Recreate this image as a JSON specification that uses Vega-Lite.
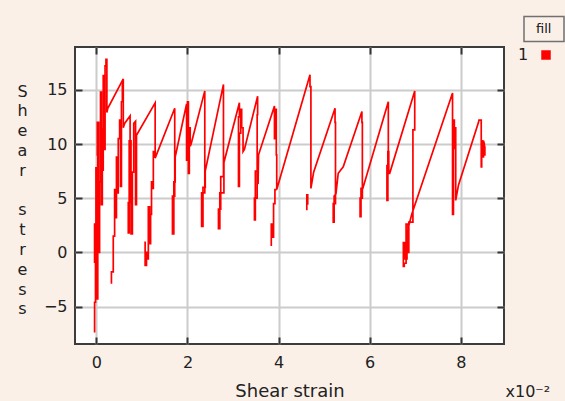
{"$schema":"https://vega.github.io/schema/vega-lite/v6.json","width":429,"height":297,"autosize":"none","padding":{"left":75,"top":47,"right":61,"bottom":57},"background":"#FAF0E8","config":{"view":{"fill":"#FFFFFF","stroke":"#3C3C3C","strokeWidth":2},"font":"DejaVu Sans"},
"data":{"values":[
{"seg":1,"i":1,"strain":-0.04,"stress":-7.4,"series":"1"},{"seg":1,"i":2,"strain":-0.04,"stress":-4.6,"series":"1"},{"seg":1,"i":3,"strain":-0.02,"stress":-4.6,"series":"1"},{"seg":1,"i":4,"strain":-0.02,"stress":2.6,"series":"1"},{"seg":1,"i":5,"strain":-0.04,"stress":2.6,"series":"1"},{"seg":1,"i":6,"strain":-0.04,"stress":-0.9,"series":"1"},{"seg":1,"i":7,"strain":-0.01,"stress":-0.9,"series":"1"},{"seg":1,"i":8,"strain":-0.01,"stress":7.8,"series":"1"},{"seg":1,"i":9,"strain":0.01,"stress":7.8,"series":"1"},{"seg":1,"i":10,"strain":0.01,"stress":-4.3,"series":"1"},
{"seg":1,"i":11,"strain":0.03,"stress":-4.3,"series":"1"},{"seg":1,"i":12,"strain":0.03,"stress":9.0,"series":"1"},{"seg":1,"i":13,"strain":0.02,"stress":9.0,"series":"1"},{"seg":1,"i":14,"strain":0.02,"stress":12.0,"series":"1"},{"seg":1,"i":15,"strain":0.05,"stress":12.0,"series":"1"},{"seg":1,"i":16,"strain":0.05,"stress":0.0,"series":"1"},{"seg":1,"i":17,"strain":0.07,"stress":0.0,"series":"1"},{"seg":1,"i":18,"strain":0.07,"stress":6.5,"series":"1"},{"seg":1,"i":19,"strain":0.09,"stress":6.5,"series":"1"},{"seg":1,"i":20,"strain":0.09,"stress":14.8,"series":"1"},
{"seg":1,"i":21,"strain":0.11,"stress":14.8,"series":"1"},{"seg":1,"i":22,"strain":0.11,"stress":4.4,"series":"1"},{"seg":1,"i":23,"strain":0.13,"stress":4.4,"series":"1"},{"seg":1,"i":24,"strain":0.13,"stress":11.4,"series":"1"},{"seg":1,"i":25,"strain":0.12,"stress":11.4,"series":"1"},{"seg":1,"i":26,"strain":0.12,"stress":7.6,"series":"1"},{"seg":1,"i":27,"strain":0.15,"stress":7.6,"series":"1"},{"seg":1,"i":28,"strain":0.15,"stress":16.3,"series":"1"},{"seg":1,"i":29,"strain":0.17,"stress":16.3,"series":"1"},{"seg":1,"i":30,"strain":0.17,"stress":9.5,"series":"1"},
{"seg":1,"i":31,"strain":0.19,"stress":9.5,"series":"1"},{"seg":1,"i":32,"strain":0.19,"stress":17.2,"series":"1"},{"seg":1,"i":33,"strain":0.21,"stress":17.2,"series":"1"},{"seg":1,"i":34,"strain":0.21,"stress":17.8,"series":"1"},{"seg":1,"i":35,"strain":0.23,"stress":17.8,"series":"1"},{"seg":1,"i":36,"strain":0.23,"stress":12.9,"series":"1"},{"seg":1,"i":37,"strain":0.25,"stress":13.3,"series":"1"},{"seg":1,"i":38,"strain":0.59,"stress":16.0,"series":"1"},{"seg":1,"i":39,"strain":0.59,"stress":11.5,"series":"1"},{"seg":1,"i":40,"strain":0.62,"stress":11.9,"series":"1"},
{"seg":1,"i":41,"strain":0.74,"stress":12.6,"series":"1"},{"seg":1,"i":42,"strain":0.74,"stress":4.6,"series":"1"},{"seg":1,"i":43,"strain":0.70,"stress":4.6,"series":"1"},{"seg":1,"i":44,"strain":0.70,"stress":1.8,"series":"1"},{"seg":1,"i":45,"strain":0.72,"stress":1.8,"series":"1"},{"seg":1,"i":46,"strain":0.72,"stress":10.3,"series":"1"},{"seg":1,"i":47,"strain":0.76,"stress":10.3,"series":"1"},{"seg":1,"i":48,"strain":0.76,"stress":1.7,"series":"1"},{"seg":1,"i":49,"strain":0.79,"stress":1.7,"series":"1"},{"seg":1,"i":50,"strain":0.79,"stress":7.4,"series":"1"},
{"seg":1,"i":51,"strain":0.82,"stress":7.4,"series":"1"},{"seg":1,"i":52,"strain":0.82,"stress":11.9,"series":"1"},{"seg":1,"i":53,"strain":0.86,"stress":12.1,"series":"1"},{"seg":1,"i":54,"strain":0.86,"stress":4.4,"series":"1"},{"seg":1,"i":55,"strain":0.88,"stress":4.4,"series":"1"},{"seg":1,"i":56,"strain":0.88,"stress":10.8,"series":"1"},{"seg":1,"i":57,"strain":1.29,"stress":13.8,"series":"1"},{"seg":1,"i":58,"strain":1.29,"stress":8.7,"series":"1"},{"seg":1,"i":59,"strain":1.72,"stress":13.3,"series":"1"},{"seg":1,"i":60,"strain":1.72,"stress":5.2,"series":"1"},
{"seg":1,"i":61,"strain":1.67,"stress":5.2,"series":"1"},{"seg":1,"i":62,"strain":1.67,"stress":1.7,"series":"1"},{"seg":1,"i":63,"strain":1.70,"stress":1.7,"series":"1"},{"seg":1,"i":64,"strain":1.70,"stress":6.5,"series":"1"},{"seg":1,"i":65,"strain":1.73,"stress":6.5,"series":"1"},{"seg":1,"i":66,"strain":1.73,"stress":8.8,"series":"1"},{"seg":1,"i":67,"strain":1.98,"stress":13.7,"series":"1"},{"seg":1,"i":68,"strain":1.98,"stress":8.5,"series":"1"},{"seg":1,"i":69,"strain":2.00,"stress":8.5,"series":"1"},{"seg":1,"i":70,"strain":2.00,"stress":13.9,"series":"1"},
{"seg":1,"i":71,"strain":2.02,"stress":13.9,"series":"1"},{"seg":1,"i":72,"strain":2.02,"stress":7.3,"series":"1"},{"seg":1,"i":73,"strain":2.04,"stress":7.3,"series":"1"},{"seg":1,"i":74,"strain":2.04,"stress":11.5,"series":"1"},{"seg":1,"i":75,"strain":2.06,"stress":11.5,"series":"1"},{"seg":1,"i":76,"strain":2.06,"stress":9.8,"series":"1"},{"seg":1,"i":77,"strain":2.08,"stress":10.0,"series":"1"},{"seg":1,"i":78,"strain":2.38,"stress":14.9,"series":"1"},{"seg":1,"i":79,"strain":2.38,"stress":5.5,"series":"1"},{"seg":1,"i":80,"strain":2.31,"stress":5.5,"series":"1"},
{"seg":1,"i":81,"strain":2.31,"stress":2.4,"series":"1"},{"seg":1,"i":82,"strain":2.34,"stress":2.4,"series":"1"},{"seg":1,"i":83,"strain":2.34,"stress":6.0,"series":"1"},{"seg":1,"i":84,"strain":2.39,"stress":6.0,"series":"1"},{"seg":1,"i":85,"strain":2.39,"stress":7.5,"series":"1"},{"seg":1,"i":86,"strain":2.79,"stress":15.5,"series":"1"},{"seg":1,"i":87,"strain":2.79,"stress":7.0,"series":"1"},{"seg":1,"i":88,"strain":2.73,"stress":7.0,"series":"1"},{"seg":1,"i":89,"strain":2.73,"stress":4.0,"series":"1"},{"seg":1,"i":90,"strain":2.68,"stress":4.0,"series":"1"},
{"seg":1,"i":91,"strain":2.68,"stress":2.2,"series":"1"},{"seg":1,"i":92,"strain":2.71,"stress":2.2,"series":"1"},{"seg":1,"i":93,"strain":2.71,"stress":5.5,"series":"1"},{"seg":1,"i":94,"strain":2.80,"stress":5.5,"series":"1"},{"seg":1,"i":95,"strain":2.80,"stress":8.3,"series":"1"},{"seg":1,"i":96,"strain":3.14,"stress":13.8,"series":"1"},{"seg":1,"i":97,"strain":3.14,"stress":12.5,"series":"1"},{"seg":1,"i":98,"strain":3.12,"stress":12.5,"series":"1"},{"seg":1,"i":99,"strain":3.12,"stress":6.1,"series":"1"},{"seg":1,"i":100,"strain":3.14,"stress":6.1,"series":"1"},
{"seg":1,"i":101,"strain":3.14,"stress":11.0,"series":"1"},{"seg":1,"i":102,"strain":3.17,"stress":11.0,"series":"1"},{"seg":1,"i":103,"strain":3.17,"stress":13.2,"series":"1"},{"seg":1,"i":104,"strain":3.19,"stress":13.2,"series":"1"},{"seg":1,"i":105,"strain":3.19,"stress":11.5,"series":"1"},{"seg":1,"i":106,"strain":3.22,"stress":11.5,"series":"1"},{"seg":1,"i":107,"strain":3.22,"stress":9.3,"series":"1"},{"seg":1,"i":108,"strain":3.25,"stress":9.5,"series":"1"},{"seg":1,"i":109,"strain":3.54,"stress":14.4,"series":"1"},{"seg":1,"i":110,"strain":3.54,"stress":12.7,"series":"1"},
{"seg":1,"i":111,"strain":3.53,"stress":12.7,"series":"1"},{"seg":1,"i":112,"strain":3.53,"stress":5.0,"series":"1"},{"seg":1,"i":113,"strain":3.47,"stress":5.0,"series":"1"},{"seg":1,"i":114,"strain":3.47,"stress":3.0,"series":"1"},{"seg":1,"i":115,"strain":3.49,"stress":3.0,"series":"1"},{"seg":1,"i":116,"strain":3.49,"stress":7.5,"series":"1"},{"seg":1,"i":117,"strain":3.55,"stress":7.5,"series":"1"},{"seg":1,"i":118,"strain":3.55,"stress":6.3,"series":"1"},{"seg":1,"i":119,"strain":3.56,"stress":9.0,"series":"1"},{"seg":1,"i":120,"strain":3.91,"stress":13.5,"series":"1"},
{"seg":1,"i":121,"strain":3.91,"stress":10.5,"series":"1"},{"seg":1,"i":122,"strain":3.93,"stress":10.5,"series":"1"},{"seg":1,"i":123,"strain":3.93,"stress":13.2,"series":"1"},{"seg":1,"i":124,"strain":3.95,"stress":13.2,"series":"1"},{"seg":1,"i":125,"strain":3.95,"stress":9.0,"series":"1"},{"seg":1,"i":126,"strain":3.96,"stress":9.0,"series":"1"},{"seg":1,"i":127,"strain":3.96,"stress":5.8,"series":"1"},{"seg":1,"i":128,"strain":4.69,"stress":16.4,"series":"1"},{"seg":1,"i":129,"strain":4.69,"stress":15.3,"series":"1"},{"seg":1,"i":130,"strain":4.71,"stress":15.3,"series":"1"},
{"seg":1,"i":131,"strain":4.71,"stress":5.9,"series":"1"},{"seg":1,"i":132,"strain":4.77,"stress":7.4,"series":"1"},{"seg":1,"i":133,"strain":5.24,"stress":13.3,"series":"1"},{"seg":1,"i":134,"strain":5.24,"stress":12.0,"series":"1"},{"seg":1,"i":135,"strain":5.25,"stress":12.0,"series":"1"},{"seg":1,"i":136,"strain":5.25,"stress":4.5,"series":"1"},{"seg":1,"i":137,"strain":5.20,"stress":4.5,"series":"1"},{"seg":1,"i":138,"strain":5.20,"stress":2.8,"series":"1"},{"seg":1,"i":139,"strain":5.22,"stress":2.8,"series":"1"},{"seg":1,"i":140,"strain":5.22,"stress":5.2,"series":"1"},
{"seg":1,"i":141,"strain":5.26,"stress":5.4,"series":"1"},{"seg":1,"i":142,"strain":5.31,"stress":7.3,"series":"1"},{"seg":1,"i":143,"strain":5.42,"stress":7.9,"series":"1"},{"seg":1,"i":144,"strain":5.83,"stress":13.0,"series":"1"},{"seg":1,"i":145,"strain":5.83,"stress":12.0,"series":"1"},{"seg":1,"i":146,"strain":5.84,"stress":12.0,"series":"1"},{"seg":1,"i":147,"strain":5.84,"stress":5.0,"series":"1"},{"seg":1,"i":148,"strain":5.79,"stress":5.0,"series":"1"},{"seg":1,"i":149,"strain":5.79,"stress":3.3,"series":"1"},{"seg":1,"i":150,"strain":5.81,"stress":3.3,"series":"1"},
{"seg":1,"i":151,"strain":5.81,"stress":5.9,"series":"1"},{"seg":1,"i":152,"strain":5.85,"stress":5.9,"series":"1"},{"seg":1,"i":153,"strain":6.41,"stress":13.9,"series":"1"},{"seg":1,"i":154,"strain":6.41,"stress":8.0,"series":"1"},{"seg":1,"i":155,"strain":6.38,"stress":8.0,"series":"1"},{"seg":1,"i":156,"strain":6.38,"stress":4.8,"series":"1"},{"seg":1,"i":157,"strain":6.40,"stress":4.8,"series":"1"},{"seg":1,"i":158,"strain":6.40,"stress":9.3,"series":"1"},{"seg":1,"i":159,"strain":6.42,"stress":9.3,"series":"1"},{"seg":1,"i":160,"strain":6.42,"stress":7.3,"series":"1"},
{"seg":1,"i":161,"strain":6.44,"stress":7.3,"series":"1"},{"seg":1,"i":162,"strain":6.99,"stress":14.9,"series":"1"},{"seg":1,"i":163,"strain":6.99,"stress":11.3,"series":"1"},{"seg":1,"i":164,"strain":6.95,"stress":11.3,"series":"1"},{"seg":1,"i":165,"strain":6.95,"stress":2.8,"series":"1"},{"seg":1,"i":166,"strain":6.86,"stress":2.8,"series":"1"},{"seg":1,"i":167,"strain":6.86,"stress":0.0,"series":"1"},{"seg":1,"i":168,"strain":6.84,"stress":0.0,"series":"1"},{"seg":1,"i":169,"strain":6.84,"stress":2.6,"series":"1"},{"seg":1,"i":170,"strain":6.80,"stress":2.6,"series":"1"},
{"seg":1,"i":171,"strain":6.80,"stress":-1.0,"series":"1"},{"seg":1,"i":172,"strain":6.76,"stress":-1.0,"series":"1"},{"seg":1,"i":173,"strain":6.76,"stress":-1.3,"series":"1"},{"seg":1,"i":174,"strain":6.74,"stress":-1.3,"series":"1"},{"seg":1,"i":175,"strain":6.74,"stress":0.9,"series":"1"},{"seg":1,"i":176,"strain":6.77,"stress":0.9,"series":"1"},{"seg":1,"i":177,"strain":6.77,"stress":-0.6,"series":"1"},{"seg":1,"i":178,"strain":6.82,"stress":-0.6,"series":"1"},{"seg":1,"i":179,"strain":6.82,"stress":1.8,"series":"1"},{"seg":1,"i":180,"strain":6.88,"stress":2.8,"series":"1"},
{"seg":1,"i":181,"strain":6.93,"stress":3.6,"series":"1"},{"seg":1,"i":182,"strain":7.82,"stress":14.7,"series":"1"},{"seg":1,"i":183,"strain":7.82,"stress":3.5,"series":"1"},{"seg":1,"i":184,"strain":7.84,"stress":3.5,"series":"1"},{"seg":1,"i":185,"strain":7.84,"stress":12.2,"series":"1"},{"seg":1,"i":186,"strain":7.86,"stress":12.2,"series":"1"},{"seg":1,"i":187,"strain":7.86,"stress":9.6,"series":"1"},{"seg":1,"i":188,"strain":7.88,"stress":9.6,"series":"1"},{"seg":1,"i":189,"strain":7.88,"stress":11.5,"series":"1"},{"seg":1,"i":190,"strain":7.89,"stress":11.5,"series":"1"},
{"seg":1,"i":191,"strain":7.89,"stress":4.8,"series":"1"},{"seg":1,"i":192,"strain":7.95,"stress":6.2,"series":"1"},{"seg":1,"i":193,"strain":8.39,"stress":12.0,"series":"1"},{"seg":1,"i":194,"strain":8.40,"stress":12.2,"series":"1"},{"seg":1,"i":195,"strain":8.45,"stress":12.2,"series":"1"},{"seg":1,"i":196,"strain":8.45,"stress":7.9,"series":"1"},{"seg":1,"i":197,"strain":8.46,"stress":7.9,"series":"1"},{"seg":1,"i":198,"strain":8.46,"stress":10.3,"series":"1"},{"seg":1,"i":199,"strain":8.48,"stress":10.3,"series":"1"},{"seg":1,"i":200,"strain":8.48,"stress":8.8,"series":"1"},
{"seg":1,"i":201,"strain":8.50,"stress":8.8,"series":"1"},{"seg":1,"i":202,"strain":8.50,"stress":10.3,"series":"1"},{"seg":1,"i":203,"strain":8.52,"stress":10.0,"series":"1"},{"seg":1,"i":204,"strain":8.52,"stress":9.0,"series":"1"},{"seg":1,"i":205,"strain":8.53,"stress":9.0,"series":"1"},{"seg":1,"i":206,"strain":8.53,"stress":9.8,"series":"1"},
{"seg":2,"i":301,"strain":0.33,"stress":-2.9,"series":"1"},{"seg":2,"i":302,"strain":0.33,"stress":-1.8,"series":"1"},{"seg":2,"i":303,"strain":0.37,"stress":-1.8,"series":"1"},{"seg":2,"i":304,"strain":0.37,"stress":1.5,"series":"1"},{"seg":2,"i":305,"strain":0.40,"stress":1.5,"series":"1"},{"seg":2,"i":306,"strain":0.40,"stress":5.8,"series":"1"},{"seg":2,"i":307,"strain":0.42,"stress":5.8,"series":"1"},{"seg":2,"i":308,"strain":0.42,"stress":3.2,"series":"1"},{"seg":2,"i":309,"strain":0.44,"stress":3.2,"series":"1"},{"seg":2,"i":310,"strain":0.44,"stress":8.8,"series":"1"},
{"seg":2,"i":311,"strain":0.46,"stress":8.8,"series":"1"},{"seg":2,"i":312,"strain":0.46,"stress":5.5,"series":"1"},{"seg":2,"i":313,"strain":0.48,"stress":5.5,"series":"1"},{"seg":2,"i":314,"strain":0.48,"stress":10.5,"series":"1"},{"seg":2,"i":315,"strain":0.51,"stress":10.5,"series":"1"},{"seg":2,"i":316,"strain":0.51,"stress":12.2,"series":"1"},{"seg":2,"i":317,"strain":0.53,"stress":12.2,"series":"1"},{"seg":2,"i":318,"strain":0.53,"stress":6.1,"series":"1"},{"seg":2,"i":319,"strain":0.55,"stress":6.1,"series":"1"},{"seg":2,"i":320,"strain":0.55,"stress":13.9,"series":"1"},
{"seg":2,"i":321,"strain":0.57,"stress":13.9,"series":"1"},{"seg":2,"i":322,"strain":0.57,"stress":15.8,"series":"1"},
{"seg":3,"i":401,"strain":1.07,"stress":1.0,"series":"1"},{"seg":3,"i":402,"strain":1.07,"stress":-1.2,"series":"1"},{"seg":3,"i":403,"strain":1.10,"stress":-1.2,"series":"1"},{"seg":3,"i":404,"strain":1.10,"stress":0.0,"series":"1"},{"seg":3,"i":405,"strain":1.12,"stress":0.0,"series":"1"},{"seg":3,"i":406,"strain":1.12,"stress":-0.6,"series":"1"},{"seg":3,"i":407,"strain":1.14,"stress":-0.6,"series":"1"},{"seg":3,"i":408,"strain":1.14,"stress":4.2,"series":"1"},{"seg":3,"i":409,"strain":1.17,"stress":4.2,"series":"1"},{"seg":3,"i":410,"strain":1.17,"stress":0.8,"series":"1"},
{"seg":3,"i":411,"strain":1.19,"stress":0.8,"series":"1"},{"seg":3,"i":412,"strain":1.19,"stress":3.5,"series":"1"},{"seg":3,"i":413,"strain":1.21,"stress":3.5,"series":"1"},{"seg":3,"i":414,"strain":1.21,"stress":6.5,"series":"1"},{"seg":3,"i":415,"strain":1.23,"stress":6.5,"series":"1"},{"seg":3,"i":416,"strain":1.23,"stress":5.9,"series":"1"},{"seg":3,"i":417,"strain":1.25,"stress":5.9,"series":"1"},{"seg":3,"i":418,"strain":1.25,"stress":9.3,"series":"1"},{"seg":3,"i":419,"strain":1.27,"stress":9.3,"series":"1"},{"seg":3,"i":420,"strain":1.27,"stress":8.7,"series":"1"},
{"seg":4,"i":501,"strain":3.84,"stress":0.6,"series":"1"},{"seg":4,"i":502,"strain":3.84,"stress":2.6,"series":"1"},{"seg":4,"i":503,"strain":3.87,"stress":2.6,"series":"1"},{"seg":4,"i":504,"strain":3.87,"stress":1.4,"series":"1"},{"seg":4,"i":505,"strain":3.89,"stress":1.4,"series":"1"},{"seg":4,"i":506,"strain":3.89,"stress":4.5,"series":"1"},{"seg":4,"i":507,"strain":3.92,"stress":4.5,"series":"1"},{"seg":4,"i":508,"strain":3.92,"stress":5.8,"series":"1"},{"seg":4,"i":509,"strain":3.96,"stress":5.8,"series":"1"},
{"seg":5,"i":601,"strain":4.62,"stress":3.9,"series":"1"},{"seg":5,"i":602,"strain":4.62,"stress":5.3,"series":"1"},{"seg":5,"i":603,"strain":4.64,"stress":5.3,"series":"1"},{"seg":5,"i":604,"strain":4.64,"stress":4.4,"series":"1"}
]},
"layer":[
{"mark":{"type":"line","strokeWidth":1.7,"clip":true},
"encoding":{
"x":{"field":"strain","type":"quantitative","scale":{"domain":[-0.47,8.95],"nice":false,"zero":false},"axis":{"values":[0,2,4,6,8],"title":"Shear strain","domain":false,"grid":true,"gridColor":"#CCCCCC","gridWidth":2,"ticks":true,"tickSize":-7,"tickColor":"#333333","tickWidth":2,"labelFontSize":16,"labelColor":"#222222","labelPadding":17,"titleFontSize":18,"titleFontWeight":"normal","titleColor":"#222222","titleBaseline":"alphabetic","titleY":52,"titleX":214.5,"titleAlign":"center"}},
"y":{"field":"stress","type":"quantitative","scale":{"domain":[-8.45,18.95],"nice":false,"zero":false},"axis":{"values":[-5,0,5,10,15],"title":["S","h","e","a","r","\u2800","s","t","r","e","s","s"],"titleAngle":0,"titleFontSize":16,"titleFontWeight":"normal","titleColor":"#222222","titleLineHeight":19.8,"titleX":-53,"titleY":49,"titleAlign":"center","titleBaseline":"alphabetic","domain":false,"grid":true,"gridColor":"#CCCCCC","gridWidth":2,"ticks":true,"tickSize":-7,"tickColor":"#333333","tickWidth":2,"labelFontSize":16,"labelColor":"#222222","labelPadding":15}},
"detail":{"field":"seg","type":"nominal"},
"order":{"field":"i","type":"quantitative"},
"color":{"field":"series","type":"nominal","scale":{"range":["#FF0000"]},"legend":{"orient":"none","legendX":443,"legendY":3,"title":"1","titleOrient":"left","titleFontSize":16,"titleFontWeight":"normal","titleColor":"#222222","titlePadding":12,"labelExpr":"''","symbolType":"square","symbolSize":90,"symbolFillColor":"#FF0000","symbolStrokeColor":"#FF0000","symbolStrokeWidth":0,"padding":0}}
}},
{"data":{"values":[{"strain":0,"stress":0,"btn":"fill"}]},
"mark":{"type":"point","opacity":0},
"encoding":{
"x":{"field":"strain","type":"quantitative","axis":{"orient":"top","values":[0,2,4,6,8],"labels":false,"grid":false,"domain":false,"ticks":true,"tickSize":-7,"tickColor":"#333333","tickWidth":2,"title":"x10⁻²","titleFontSize":16,"titleFontWeight":"normal","titleColor":"#222222","titleX":430,"titleY":349,"titleAlign":"left","titleBaseline":"alphabetic"}},
"y":{"field":"stress","type":"quantitative","axis":{"orient":"right","values":[-5,0,5,10,15],"labels":false,"grid":false,"domain":false,"ticks":true,"tickSize":-7,"tickColor":"#333333","tickWidth":2,"title":null}},
"shape":{"field":"btn","type":"nominal","scale":{"range":["M-1,-0.62H1V0.62H-1Z"]},"legend":{"orient":"none","legendX":448,"legendY":-39,"title":null,"symbolSize":1600,"symbolOpacity":1,"symbolFillColor":"#C4C4C4","symbolStrokeColor":"#707070","symbolStrokeWidth":1.5,"labelFontSize":13,"labelColor":"#111111","labelOffset":-29,"padding":0}}
}}
],
"resolve":{"axis":{"x":"independent","y":"independent"}}
}
